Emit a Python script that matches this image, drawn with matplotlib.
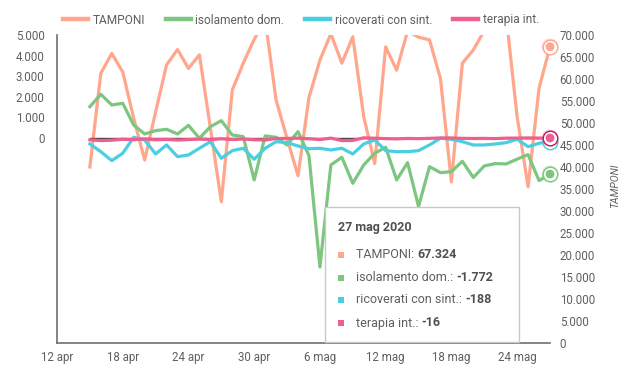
import numpy as np
import pandas as pd
import matplotlib
matplotlib.use("Agg")
import matplotlib.pyplot as plt
from matplotlib.patches import Rectangle
from matplotlib.ticker import FuncFormatter, FixedLocator

plt.rcParams['font.family'] = ['Roboto', 'DejaVu Sans']

# ---------------- data ----------------
start_date = "2020-04-15"
end_date = "2020-05-27"
axis_start = "2020-04-12"

tamponi = [40000, 61300, 65800, 61600, 51100, 41600, 52500, 63200, 66700, 62400,
           65500, 48900, 32100, 57500, 63600, 69000, 73500, 55200, 46500, 38000,
           55800, 64300, 70300, 63600, 69600, 51400, 40800, 67300, 62000, 70900,
           69500, 68900, 60100, 36600, 63600, 66600, 71000, 76000, 74300, 51400,
           35500, 57900, 67324]
isolamento = [1509, 2113, 1592, 1675, 618, 180, 341, 409, 180, 600,
              -30, 535, 828, 131, 49, -2059, 83, 19, -355, 292,
              -880, -6300, -1329, -954, -2220, -1329, -759, -467, -2059, -1217,
              -3350, -1412, -1704, -1655, -1150, -1940, -1378, -1263, -1280, -1045,
              -825, -2093, -1772]
ricoverati = [-307, -682, -1120, -760, 19, -112, -794, -355, -925, -842,
              -516, -195, -1003, -633, -516, -1052, -516, -195, -243, -404,
              -540, -516, -599, -516, -794, -307, -112, -633, -682, -682,
              -633, -355, -29, -78, -195, -355, -355, -307, -243, -78,
              -438, -273, -188]
terapia = [-107, -143, -124, -79, -98, -62, -102, -87, -117, -94,
           -71, -93, -53, -93, -68, -101, -116, -39, -38, -22,
           -52, -94, -22, -143, -134, -7, -28, -47, -59, -38,
           -47, -33, -13, -13, -33, -40, -36, -45, -23, -19,
           -12, -20, -16]

series_names = ["TAMPONI", "isolamento dom.", "ricoverati con sint.", "terapia int."]
colors = ["#FFA68C", "#7DC680", "#4ACFE2", "#EE5F8F"]

x_tick_days = [0, 6, 12, 18, 24, 30, 36, 42]
x_tick_labels = ["12 apr", "18 apr", "24 apr", "30 apr", "6 mag", "12 mag", "18 mag", "24 mag"]
left_ticks = [0, 1000, 2000, 3000, 4000, 5000]
right_ticks = list(range(0, 70001, 5000))
tooltip_title = "27 mag 2020"

# ---------------- helpers ----------------
def it_fmt(v, pos=None):
    s = f"{abs(int(round(v))):,}".replace(",", ".")
    return ("-" if v < 0 else "") + s

dates = pd.date_range(start_date, end_date)
xd = np.array((dates - pd.Timestamp(axis_start)).days, dtype=float)

W, H = 627, 380
fig = plt.figure(figsize=(W / 100, H / 100), dpi=100)
L, R, T, B = 57, 550, 35, 343
rect = [L / W, 1 - B / H, (R - L) / W, (B - T) / H]

axr = fig.add_axes(rect)          # TAMPONI (right scale), drawn underneath
axl = axr.twinx()                 # other series (left scale)

grey = "#6f6f6f"
txt = "#5f5f5f"

# right axis setup
axr.yaxis.tick_right()
axr.yaxis.set_label_position("right")
axr.set_ylim(0, 70000)
axr.yaxis.set_major_locator(FixedLocator(right_ticks))
axr.yaxis.set_major_formatter(FuncFormatter(it_fmt))
axr.set_xlim(0, xd[-1])
axr.set_xticks(x_tick_days)
axr.set_xticklabels(x_tick_labels)
axr.tick_params(axis='x', length=0, pad=6, labelsize=8.3, labelcolor=txt)
axr.tick_params(axis='y', length=0, pad=7, labelsize=8.3, labelcolor=txt)
axr.set_ylabel("TAMPONI", fontsize=7.5, style='italic', color=txt, rotation=90)
axr.yaxis.set_label_coords((610 - L) / (R - L), (B - 186) / (B - T))
for s in ["top", "right", "left"]:
    axr.spines[s].set_visible(False)
axr.spines["bottom"].set_color(grey)
axr.spines["bottom"].set_linewidth(1.2)

# left axis setup (twin)
axl.yaxis.tick_left()
axl.set_ylim(-10000, 5000)
axl.yaxis.set_major_locator(FixedLocator(left_ticks))
axl.yaxis.set_major_formatter(FuncFormatter(it_fmt))
axl.tick_params(axis='y', length=0, pad=9, labelsize=8.3, labelcolor=txt)
for s in ["top", "right", "bottom"]:
    axl.spines[s].set_visible(False)
axl.spines["left"].set_color(grey)
axl.spines["left"].set_linewidth(1.2)

lw = 2.3
# zero baseline on left scale
axl.plot([xd[0], xd[-1]], [0, 0], color="#444444", lw=1.0, zorder=1)

l0, = axr.plot(xd, tamponi, color=colors[0], lw=lw, zorder=2)
l1, = axl.plot(xd, isolamento, color=colors[1], lw=lw, zorder=2)
l2, = axl.plot(xd, ricoverati, color=colors[2], lw=lw, zorder=3)
l3, = axl.plot(xd, terapia, color=colors[3], lw=lw, zorder=4)

# highlighted last points
def highlight(ax, x, y, c, ring, z):
    ax.scatter([x], [y], s=150, facecolor=c, alpha=0.35, edgecolor='none', zorder=z, clip_on=False)
    ax.scatter([x], [y], s=110, facecolor='white', edgecolor=ring, linewidth=1.0, zorder=z + 0.1, clip_on=False)
    ax.scatter([x], [y], s=40, facecolor=c, edgecolor='none', zorder=z + 0.2, clip_on=False)

highlight(axr, xd[-1], tamponi[-1], colors[0], colors[0], 10)
highlight(axl, xd[-1], isolamento[-1], colors[1], colors[1], 10)
highlight(axl, xd[-1], ricoverati[-1], colors[2], colors[2], 11)
highlight(axl, xd[-1], terapia[-1], colors[3], "#C2185B", 12)

# legend
leg = fig.legend([l0, l1, l2, l3], series_names, loc="center", ncol=4,
                 bbox_to_anchor=(301 / W, 1 - 20 / H), frameon=False,
                 fontsize=8.6, handlelength=2.1, handletextpad=0.38,
                 columnspacing=1.75, borderaxespad=0)
for t in leg.get_texts():
    t.set_color(txt)
for h in leg.legend_handles:
    h.set_linewidth(3.2)

# tooltip
bx0, by0, bx1, by1 = 325, 207, 519, 342
box = Rectangle((bx0 / W, 1 - by1 / H), (bx1 - bx0) / W, (by1 - by0) / H,
                transform=fig.transFigure, facecolor="white", edgecolor="#c8c8c8",
                linewidth=1.0, zorder=20)
fig.add_artist(box)
fig.text(338 / W, 1 - 228 / H, tooltip_title, fontsize=9, fontweight='bold',
         color="#505050", va='center', ha='left', zorder=21)

values = [tamponi[-1], isolamento[-1], ricoverati[-1], terapia[-1]]
rows_y = [255, 277.5, 299.5, 323]
label_texts = []
for name, v, c, ry in zip(series_names, values, colors, rows_y):
    fig.add_artist(Rectangle(((340.5 - 3) / W, 1 - (ry + 3) / H), 6 / W, 6 / H,
                             transform=fig.transFigure, facecolor=c, edgecolor='none', zorder=21))
    t = fig.text(356 / W, 1 - ry / H, name + ": ", fontsize=9, color=txt,
                 va='center', ha='left', zorder=21)
    label_texts.append((t, v, ry))

fig.canvas.draw()
r = fig.canvas.get_renderer()
for t, v, ry in label_texts:
    bb = t.get_window_extent(renderer=r)
    fig.text(bb.x1 / W, 1 - ry / H, it_fmt(v), fontsize=9, fontweight='bold',
             color="#505050", va='center', ha='left', zorder=21)

fig.savefig("out.png", dpi=100)
